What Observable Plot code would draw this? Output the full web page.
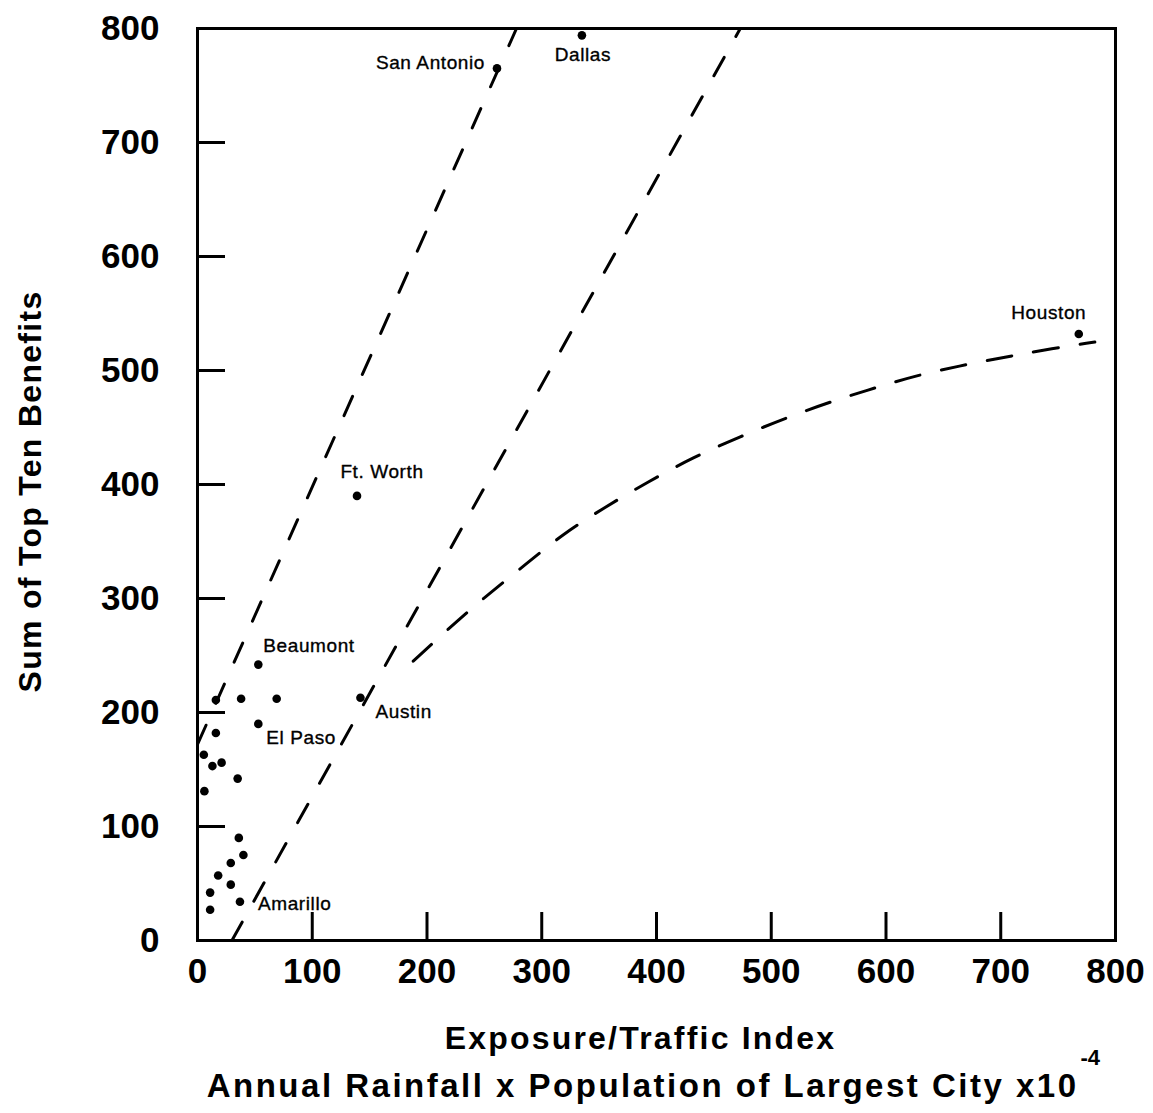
<!DOCTYPE html>
<html><head><meta charset="utf-8">
<script src="https://cdn.jsdelivr.net/npm/d3@7"></script>
<script src="https://cdn.jsdelivr.net/npm/@observablehq/plot@0.6"></script>
<style>
body{margin:0;background:#fff;}
#chart svg{font-family:"Liberation Sans",Arial,Helvetica,sans-serif;background:#fff;}
</style>
</head><body><div id="chart"></div>
<script>
// ---- data ----
const cityNames = ["Dallas", "San Antonio", "Houston", "Ft. Worth", "Beaumont", "Austin", "El Paso", "Amarillo"];
const cityX = [335, 261, 768, 139, 53, 142, 53, 37];
const cityY = [794, 765, 532, 390, 242, 213, 190, 34];
const otherX = [16, 38, 69, 16, 5.5, 13, 21, 35, 6, 36, 40, 29, 18, 29, 11, 11];
const otherY = [211, 212, 212, 182, 163, 153, 156, 142, 131, 90, 75, 68, 57, 49, 42, 27];
const line1X = [0, 278];
const line1Y = [172, 800];
const line2X = [30, 473];
const line2Y = [0, 800];
const curveX = [188, 228, 254, 286, 319, 355, 392, 432, 473, 514, 556, 591, 628, 664, 700, 737, 782];
const curveY = [245, 282, 304, 330, 357, 380, 402, 424, 442, 459, 474, 485, 496, 504, 511, 518, 525];
const tickLabels = [0, 100, 200, 300, 400, 500, 600, 700, 800];
const innerTicks = [100, 200, 300, 400, 500, 600, 700];
const xTitle1 = "Exposure/Traffic Index";
const xTitle2 = "Annual Rainfall x Population of Largest City x10";
const xTitleSup = "-4";
const yTitle = "Sum of Top Ten Benefits";

// ---- layout (label placement, not data) ----
const labelLayout = {
  "Dallas": {dx: 1, dy: 20, anchor: "middle"},
  "San Antonio": {dx: -12, dy: -5, anchor: "end"},
  "Houston": {dx: -30, dy: -21, anchor: "middle"},
  "Ft. Worth": {dx: 25, dy: -24, anchor: "middle"},
  "Beaumont": {dx: 5, dy: -19, anchor: "start"},
  "Austin": {dx: 15, dy: 14, anchor: "start"},
  "El Paso": {dx: 8, dy: 14, anchor: "start"},
  "Amarillo": {dx: 18, dy: 2, anchor: "start"}
};

const idx = cityNames.map((_, i) => i);
const oidx = otherX.map((_, i) => i);
const pts = (xs, ys) => xs.map((x, i) => ({x, y: ys[i]}));

const fontFam = '"Liberation Sans",Arial,Helvetica,sans-serif';

const chart = Plot.plot({
  width: 1153,
  height: 1113,
  marginLeft: 197,
  marginRight: 38,
  marginTop: 28,
  marginBottom: 173,
  x: {domain: [0, 800], label: null, axis: null},
  y: {domain: [0, 800], label: null, axis: null},
  style: {fontFamily: fontFam, color: "black", background: "white"},
  marks: [
    // dashed guide lines
    Plot.line(pts(line1X, line1Y), {x: "x", y: "y", stroke: "black", strokeWidth: 3, strokeDasharray: "21,24", clip: true}),
    Plot.line(pts(line2X, line2Y), {x: "x", y: "y", stroke: "black", strokeWidth: 3, strokeDasharray: "21,24", clip: true}),
    Plot.line(pts(curveX, curveY), {x: "x", y: "y", stroke: "black", strokeWidth: 3, strokeDasharray: "25,22", curve: "basis", clip: true}),
    // points
    Plot.dot(oidx, {x: i => otherX[i], y: i => otherY[i], r: 4.3, fill: "black", stroke: "none"}),
    Plot.dot(idx, {x: i => cityX[i], y: i => cityY[i], r: 4.3, fill: "black", stroke: "none"}),
    // city labels
    ...idx.map(i => {
      const L = labelLayout[cityNames[i]];
      return Plot.text([i], {x: j => cityX[j], y: j => cityY[j], text: j => cityNames[j],
        dx: L.dx, dy: L.dy, textAnchor: L.anchor, fontSize: 19, fill: "black",
        stroke: "black", strokeWidth: 0.35});
    }),
    // frame
    Plot.frame({stroke: "black", strokeWidth: 3}),
    // inward ticks
    Plot.axisX(innerTicks, {anchor: "bottom", tickSize: -28, strokeWidth: 3, tickFormat: () => ""}),
    Plot.axisY(innerTicks, {anchor: "left", tickSize: -28, strokeWidth: 3, tickFormat: () => ""}),
    // tick labels
    Plot.axisX(tickLabels, {anchor: "bottom", tickSize: 0, tickPadding: 18, fontSize: 35, fontWeight: "bold", tickFormat: d => String(d)}),
    Plot.axisY(tickLabels, {anchor: "left", tickSize: 0, tickPadding: 38, fontSize: 35, fontWeight: "bold", tickFormat: d => String(d)}),
    // axis titles
    Plot.text([xTitle1], {text: d => d, frameAnchor: "bottom", textAnchor: "middle", dx: -16, dy: 108, fontSize: 32, fontWeight: "bold", fill: "black"}),
    Plot.text([xTitle2], {text: d => d, frameAnchor: "bottom-left", textAnchor: "end", dx: 881, dy: 156, fontSize: 33, fontWeight: "bold", fill: "black"}),
    Plot.text([xTitleSup], {text: d => d, frameAnchor: "bottom-left", textAnchor: "start", dx: 883, dy: 124, fontSize: 22, fontWeight: "bold", fill: "black"}),
    Plot.text([yTitle], {text: d => d, frameAnchor: "left", textAnchor: "middle", rotate: -90, dx: -167, dy: 7, fontSize: 32, fontWeight: "bold", fill: "black"})
  ]
});
document.getElementById("chart").appendChild(chart);

// letter spacing to match the wide type of the original
const spacing = new Map([[xTitle1, "2.2px"], [xTitle2, "2.5px"], [yTitle, "1.3px"]]);
cityNames.forEach(n => spacing.set(n, "0.6px"));
d3.select(chart).selectAll("text").each(function() {
  const s = spacing.get(this.textContent);
  if (s) this.style.letterSpacing = s;
});
</script>
</body></html>
